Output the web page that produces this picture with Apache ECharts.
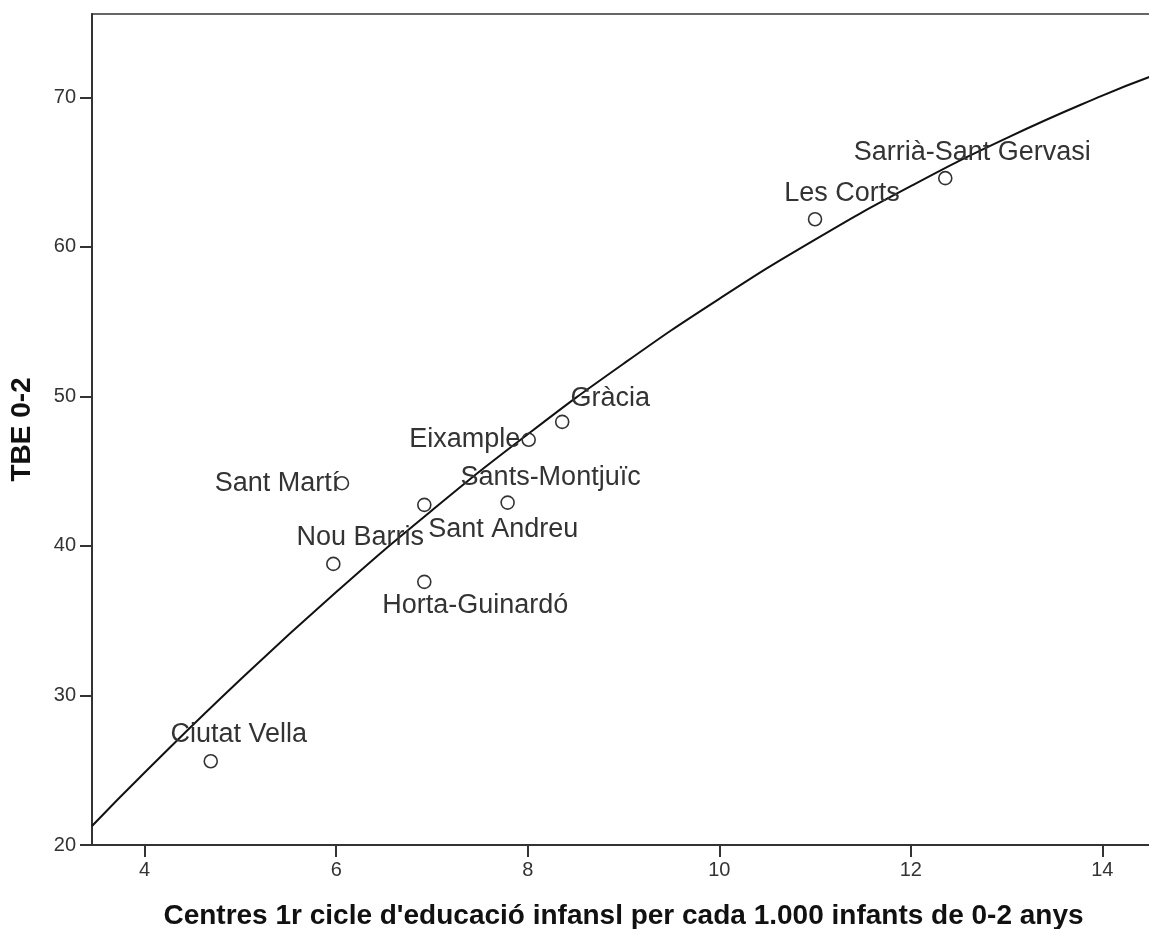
<!DOCTYPE html>
<html>
<head>
<meta charset="utf-8">
<script src="https://cdn.jsdelivr.net/npm/echarts@6/dist/echarts.min.js"></script>
<style>
html,body{margin:0;padding:0;background:#fff;}
#chart{width:1149px;height:929px;}
</style>
</head>
<body>
<div id="chart"></div>
<script>
// Districts and values
const districts = ['Ciutat Vella', 'Nou Barris', 'Sant Martí', 'Sant Andreu', 'Horta-Guinardó',
  'Sants-Montjuïc', 'Eixample', 'Gràcia', 'Les Corts', 'Sarrià-Sant Gervasi'];
const centresPer1000 = [4.69, 5.97, 6.06, 6.92, 6.92, 7.79, 8.01, 8.36, 11.00, 12.36];
const tbe02 = [25.6, 38.8, 44.2, 42.75, 37.6, 42.9, 47.1, 48.3, 61.85, 64.6];

// Fitted curve at several x positions
const fitX = [3.45, 4, 5, 6, 7, 8, 9, 10, 11, 12, 13, 14, 14.55];
const fitY = [21.27, 24.85, 31.07, 36.92, 42.38, 47.47, 52.19, 56.53, 60.49, 64.07, 67.28, 70.12, 71.5];

// Tick labels
const xTicks = [4, 6, 8, 10, 12, 14];
const yTicks = [20, 30, 40, 50, 60, 70];

const xTitle = "Centres 1r cicle d'educació infansl per cada 1.000 infants de 0-2 anys";
const yTitle = 'TBE 0-2';

// label placement (style only), offsets of label centre from the point
const labelOffsets = {
  'Ciutat Vella': [28, -27],
  'Nou Barris': [27, -26],
  'Sant Martí': [-65, 0],
  'Sant Andreu': [79, 25],
  'Horta-Guinardó': [51, 24],
  'Sants-Montjuïc': [43, -25],
  'Eixample': [-64, 0],
  'Gràcia': [48, -23],
  'Les Corts': [27, -26],
  'Sarrià-Sant Gervasi': [27, -26]
};

const FONT = "'Liberation Sans', Arial, sans-serif";

const pointData = districts.map((name, i) => ({
  name: name,
  value: [centresPer1000[i], tbe02[i]]
}));

const chart = echarts.init(document.getElementById('chart'), null, { renderer: 'canvas' });
chart.setOption({
  animation: false,
  backgroundColor: '#ffffff',
  grid: {
    left: 92, top: 14, right: -6, bottom: 84,
    outerBoundsMode: 'none',
    containLabel: false,
    show: true, borderColor: '#666', borderWidth: 2, backgroundColor: 'transparent'
  },
  xAxis: {
    type: 'value', min: 3.45, max: 14.55,
    name: xTitle, nameLocation: 'middle', nameGap: 57, nameMoveOverlap: false,
    nameTextStyle: { fontFamily: FONT, fontSize: 28, fontWeight: 'bold', color: '#111' },
    axisLine: { show: true, onZero: false, lineStyle: { color: '#333', width: 2 } },
    axisTick: { show: true, length: 12, lineStyle: { color: '#333', width: 2 }, customValues: xTicks },
    axisLabel: { fontFamily: FONT, fontSize: 20, color: '#333', margin: 15, customValues: xTicks },
    splitLine: { show: false }
  },
  yAxis: {
    type: 'value', min: 20, max: 75.58,
    name: yTitle, nameLocation: 'middle', nameGap: 56, nameRotate: 90, nameMoveOverlap: false,
    nameTextStyle: { fontFamily: FONT, fontSize: 28, fontWeight: 'bold', color: '#111' },
    axisLine: { show: true, onZero: false, lineStyle: { color: '#333', width: 2 } },
    axisTick: { show: true, length: 12, lineStyle: { color: '#333', width: 2 }, customValues: yTicks },
    axisLabel: { fontFamily: FONT, fontSize: 20, color: '#333', margin: 16, customValues: yTicks },
    splitLine: { show: false }
  },
  series: [
    {
      type: 'line',
      data: fitX.map((x, i) => [x, fitY[i]]),
      smooth: true,
      showSymbol: false,
      clip: true,
      lineStyle: { color: '#111', width: 2 },
      z: 3
    },
    {
      type: 'scatter',
      data: pointData,
      symbol: 'circle',
      symbolSize: 13,
      itemStyle: { color: 'rgba(255,255,255,0)', borderColor: '#333', borderWidth: 1.6, opacity: 1 },
      label: {
        show: true,
        position: 'inside',
        formatter: p => p.name,
        fontFamily: FONT,
        fontSize: 27,
        color: '#333',
        align: 'center',
        verticalAlign: 'middle'
      },
      labelLayout: function (params) {
        const off = labelOffsets[districts[params.dataIndex]] || [0, 0];
        return { dx: off[0], dy: off[1], hideOverlap: false };
      },
      z: 4
    }
  ]
});
</script>
</body>
</html>
